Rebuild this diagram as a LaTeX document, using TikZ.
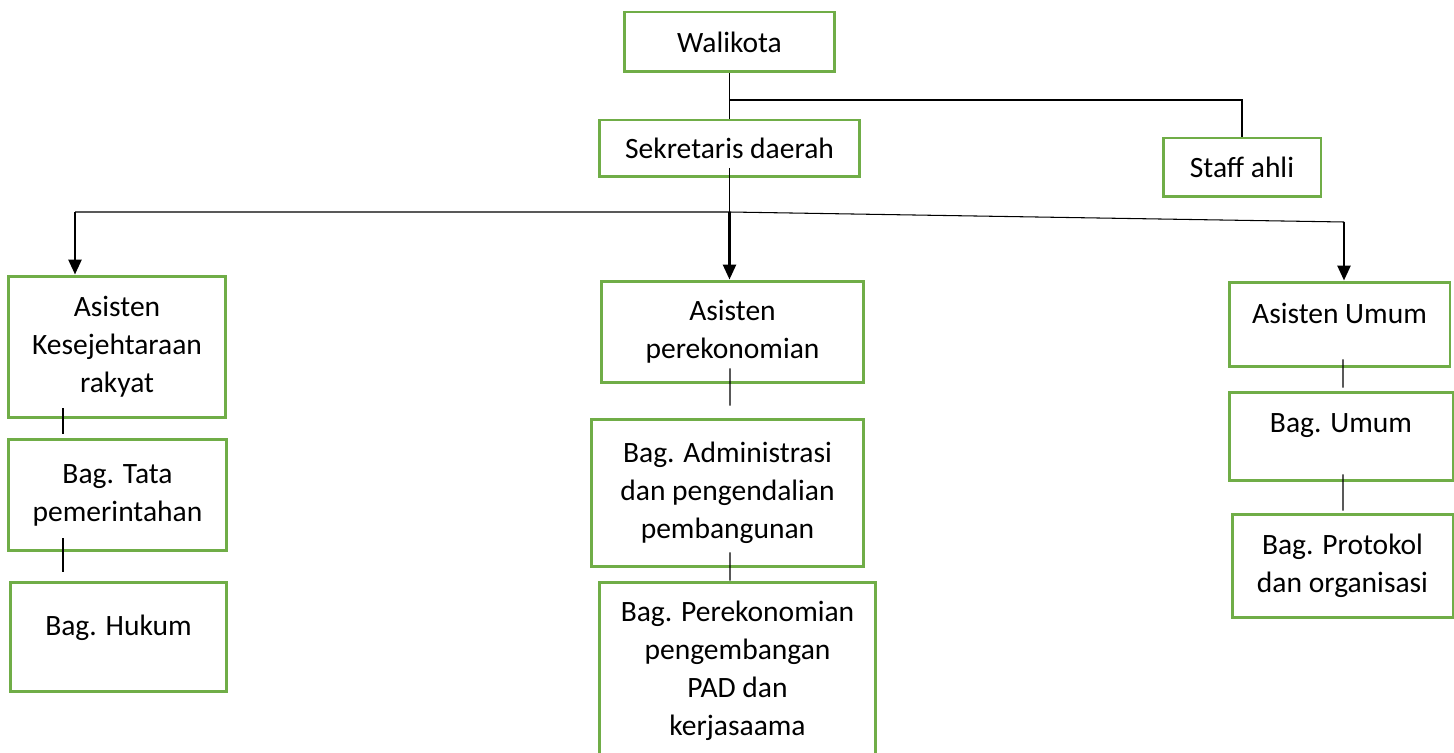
\documentclass[tikz,border=0pt]{standalone}
\usepackage{fontspec}
\setmainfont{Carlito}
\usepackage{xcolor}
\usepackage{tikz}
\usetikzlibrary{positioning,arrows.meta,calc}
\definecolor{boxgreen}{HTML}{70AD47}

\begin{document}
\begin{tikzpicture}[x=0.02cm,y=-0.02cm,
  unit/.style={rectangle,draw=boxgreen,line width=1.7pt,align=center,
    inner sep=2pt,font=\fontsize{16.8}{21.6}\selectfont},
  uptext/.style={text depth=#1},
  link/.style={line width=0.6pt},
  arr/.style={-{Triangle[length=0.3cm,width=0.26cm]},line width=1.5pt}]

  \useasboundingbox (0,0) rectangle (1454,753);
  \clip (0,0) rectangle (1454,753);

  % top level
  \node[unit,minimum width=4.22cm,minimum height=1.2cm] (wali) at (729.5,42) {Walikota};
  \node[unit,minimum width=5.22cm,minimum height=1.14cm] (sekda) at (729.5,148.5) {Sekretaris daerah};
  \node[unit,minimum width=3.16cm,minimum height=1.18cm] (staff) at (1242,167.5) {Staff ahli};

  % left column
  \node[unit,minimum width=4.36cm,minimum height=2.84cm] (asKesra) at (117,347) {Asisten\\Kesejehtaraan\\rakyat};
  \node[unit,minimum width=4.38cm,minimum height=2.24cm] (tata) at (117.5,495) {Bag. Tata\\pemerintahan};
  \node[unit,uptext=13pt,minimum width=4.34cm,minimum height=2.2cm] (hukum) at (118.5,637) {Bag. Hukum};

  % middle column
  \node[unit,minimum width=5.26cm,minimum height=2.04cm] (asEkon) at (732.5,332) {Asisten\\perekonomian};
  \node[unit,minimum width=5.46cm,minimum height=2.96cm] (admin) at (727.5,493) {Bag. Administrasi\\dan pengendalian\\pembangunan};
  \node[unit,minimum width=5.54cm,minimum height=3.56cm] (bagPer) at (737.5,671) {Bag. Perekonomian\\pengembangan\\PAD dan\\kerjasaama};

  % right column
  \node[unit,uptext=13pt,minimum width=4.42cm,minimum height=1.7cm] (asUmum) at (1339.5,324.5) {Asisten Umum};
  \node[unit,uptext=15pt,minimum width=4.48cm,minimum height=1.78cm] (bagUmum) at (1341,436.5) {Bag. Umum};
  \node[unit,minimum width=4.42cm,minimum height=2.08cm] (protokol) at (1342.5,566) {Bag. Protokol\\dan organisasi};

  % walikota to sekda and staff
  \coordinate (j1) at (729.5,100);
  \draw[link] (wali.south) -- (sekda.north);
  \draw[link] (j1) -| (staff.north);

  % sekda bus to the assistants
  \coordinate (s0) at (729.5,168);
  \coordinate (bus) at (729.5,212);
  \coordinate (busL) at (75,212);
  \coordinate (busR) at (1344,222);
  \draw[link] (s0) -- (bus);
  \draw[link] (busL) -- (bus) -- (busR);
  \draw[arr] (busL) -- (busL |- asKesra.north);
  \draw[arr] (bus) -- (bus |- asEkon.north);
  \draw[arr] (busR) -- (busR |- asUmum.north);

  % links inside the columns
  \draw[link] ($(asKesra.south)+(-54,-11)$) -- ($(tata.north)+(-54.5,-4)$);
  \draw[link] ($(tata.south)+(-54.5,-14)$) -- ($(hukum.north)+(-55.5,-9)$);
  \draw[link] ($(asEkon.south)+(-2.5,-16)$) -- ($(admin.north)+(2.5,-12)$);
  \draw[link] ($(admin.south)+(2.5,-16)$) -- ($(bagPer.north)+(-7.5,0)$);
  \draw[link] ($(asUmum.south)+(3.5,-9)$) -- ($(bagUmum.north)+(2,-3)$);
  \draw[link] ($(bagUmum.south)+(2,-8)$) -- ($(protokol.north)+(0.5,-2)$);
\end{tikzpicture}
\end{document}
